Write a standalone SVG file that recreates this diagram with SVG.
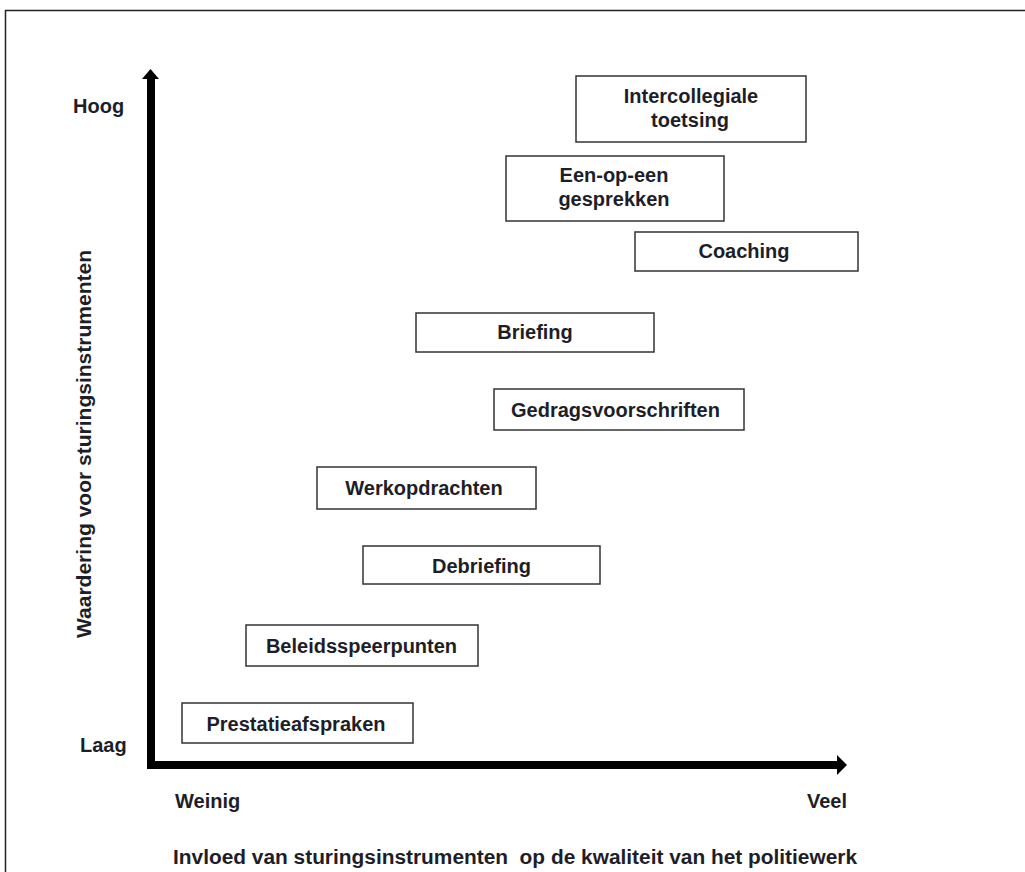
<svg xmlns="http://www.w3.org/2000/svg" width="1025" height="872" viewBox="0 0 1025 872">
<style>
.box{fill:#fff;stroke:#333;stroke-width:1.5}
.t{font-family:"Liberation Sans",Arial,sans-serif;font-weight:bold;font-size:20px;fill:#1e1e28}
.m{text-anchor:middle}
.ax{fill:#000}
</style>
<rect x="0" y="0" width="1025" height="872" fill="#fff"/>
<path d="M5.5 880 V10.5 H1030" fill="none" stroke="#222" stroke-width="1.5"/>
<g id="axes">
<rect class="ax" x="147" y="76" width="8" height="693"/>
<polygon class="ax" points="142,79 159,79 150.5,69"/>
<rect class="ax" x="147" y="761" width="691" height="8"/>
<polygon class="ax" points="837,755 837,775 847,765"/>
</g>
<g id="labels">
<text class="t" x="73" y="113">Hoog</text>
<text class="t" x="80" y="752">Laag</text>
<text class="t" x="175" y="808">Weinig</text>
<text class="t" x="847" y="808" text-anchor="end">Veel</text>
<text class="t" x="173" y="864" xml:space="preserve" textLength="684" lengthAdjust="spacingAndGlyphs">Invloed van sturingsinstrumenten  op de kwaliteit van het politiewerk</text>
<text class="t m" transform="translate(91,444) rotate(-90)" x="0" y="0" textLength="388" lengthAdjust="spacingAndGlyphs">Waardering voor sturingsinstrumenten</text>
</g>
<g id="n-intercollegiale">
<rect class="box" x="576" y="76" width="230" height="66"/>
<text class="t m" x="691" y="103">Intercollegiale</text>
<text class="t m" x="690" y="127">toetsing</text>
</g>
<g id="n-eenopeen">
<rect class="box" x="506" y="156" width="218" height="65"/>
<text class="t m" x="614" y="182">Een-op-een</text>
<text class="t m" x="614" y="206">gesprekken</text>
</g>
<g id="n-coaching">
<rect class="box" x="635" y="232" width="223" height="39"/>
<text class="t m" x="744" y="258">Coaching</text>
</g>
<g id="n-briefing">
<rect class="box" x="416" y="313" width="238" height="39"/>
<text class="t m" x="535" y="339">Briefing</text>
</g>
<g id="n-gedragsvoorschriften">
<rect class="box" x="494" y="389" width="250" height="41"/>
<text class="t m" x="615.5" y="417">Gedragsvoorschriften</text>
</g>
<g id="n-werkopdrachten">
<rect class="box" x="317" y="467" width="219" height="42"/>
<text class="t m" x="424" y="495">Werkopdrachten</text>
</g>
<g id="n-debriefing">
<rect class="box" x="363" y="546" width="237" height="38"/>
<text class="t m" x="481.5" y="573">Debriefing</text>
</g>
<g id="n-beleidsspeerpunten">
<rect class="box" x="246" y="625" width="232" height="41"/>
<text class="t m" x="361.5" y="653">Beleidsspeerpunten</text>
</g>
<g id="n-prestatieafspraken">
<rect class="box" x="182" y="703" width="231" height="40"/>
<text class="t m" x="296" y="731">Prestatieafspraken</text>
</g>
</svg>
